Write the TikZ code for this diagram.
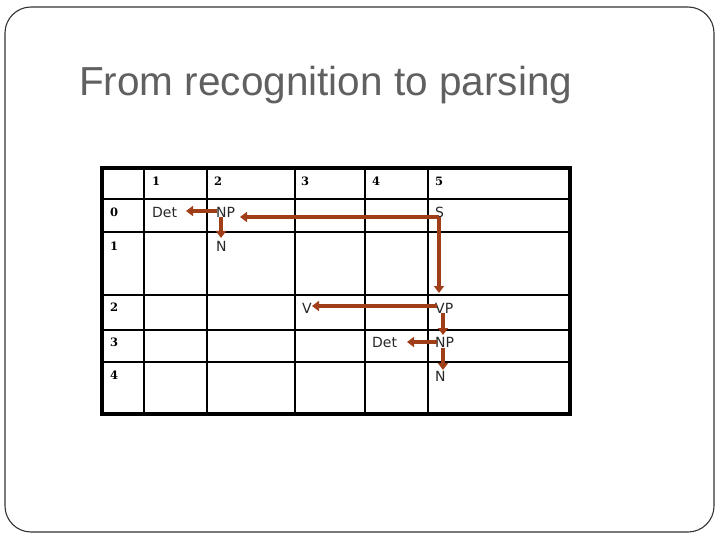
\documentclass[tikz,border=0pt]{standalone}
\usepackage{fontspec}
\setmainfont{DejaVu Sans}
\newfontfamily\titlefont{Liberation Sans}
\newfontfamily\numfont{DejaVu Serif}
\usetikzlibrary{arrows.meta}
\definecolor{arr}{RGB}{160,62,26}
\definecolor{titlegray}{RGB}{96,96,96}
\tikzset{
  thinline/.style={line width=2.6pt,black},
  thickline/.style={line width=3.6pt,black},
  hdr/.style={anchor=west,font=\numfont\bfseries\fontsize{11.5}{13}\selectfont,inner sep=0pt},
  cell/.style={anchor=west,font=\fontsize{14}{16}\selectfont,inner sep=0pt,text=black!85},
  link/.style={arr,line width=3.4pt,-{Triangle[length=7pt,width=10pt]}},
}
\begin{document}
\begin{tikzpicture}[x=1pt,y=-1pt]
\useasboundingbox (0,0) rectangle (720,540);
\draw[line width=1.1pt,black!80,rounded corners=26pt] (5,7) rectangle (714,532);
\node[anchor=base west,inner sep=0pt,text=titlegray,font=\titlefont\fontsize{40.5}{46}\selectfont] (title) at (79,96) {From recognition to parsing};
% grid
\foreach \y in {199,232,295,330,362} \draw[thinline] (102,\y) -- (570,\y);
\foreach \x in {144,207,295,365,428} \draw[thinline] (\x,168) -- (\x,414);
\draw[thickline] (102,168) rectangle (570,414);
% headers
\node[hdr] (h1) at (152,181) {1};
\node[hdr] (h2) at (214,181) {2};
\node[hdr] (h3) at (301,181) {3};
\node[hdr] (h4) at (372,181) {4};
\node[hdr] (h5) at (435,181) {5};
\node[hdr] (r0) at (110,212) {0};
\node[hdr] (r1) at (110,246) {1};
\node[hdr] (r2) at (110,307) {2};
\node[hdr] (r3) at (110,342) {3};
\node[hdr] (r4) at (110,375) {4};
% cell contents
\node[cell] (det1) at (152,212) {Det};
\node[cell] (np1) at (216,212) {NP};
\node[cell] (s) at (435,212) {S};
\node[cell] (n1) at (216,246) {N};
\node[cell] (v) at (302,308) {V};
\node[cell] (vp) at (435,308) {VP};
\node[cell] (det2) at (372,342) {Det};
\node[cell] (np2) at (435,342) {NP};
\node[cell] (n2) at (435,376) {N};
% arrows
\coordinate (sc) at (439,217);
\draw[link] (217,211) -- (186,211);
\draw[link] (221,217) -- (221,238);
\draw[link] (sc) -- (240,217);
\draw[link] (sc) -- (439,293);
\draw[link] (437,306) -- (312,306);
\draw[link] (443,313) -- (443,335);
\draw[link] (437,342) -- (407,342);
\draw[link] (443,348) -- (443,370);
\end{tikzpicture}
\end{document}
